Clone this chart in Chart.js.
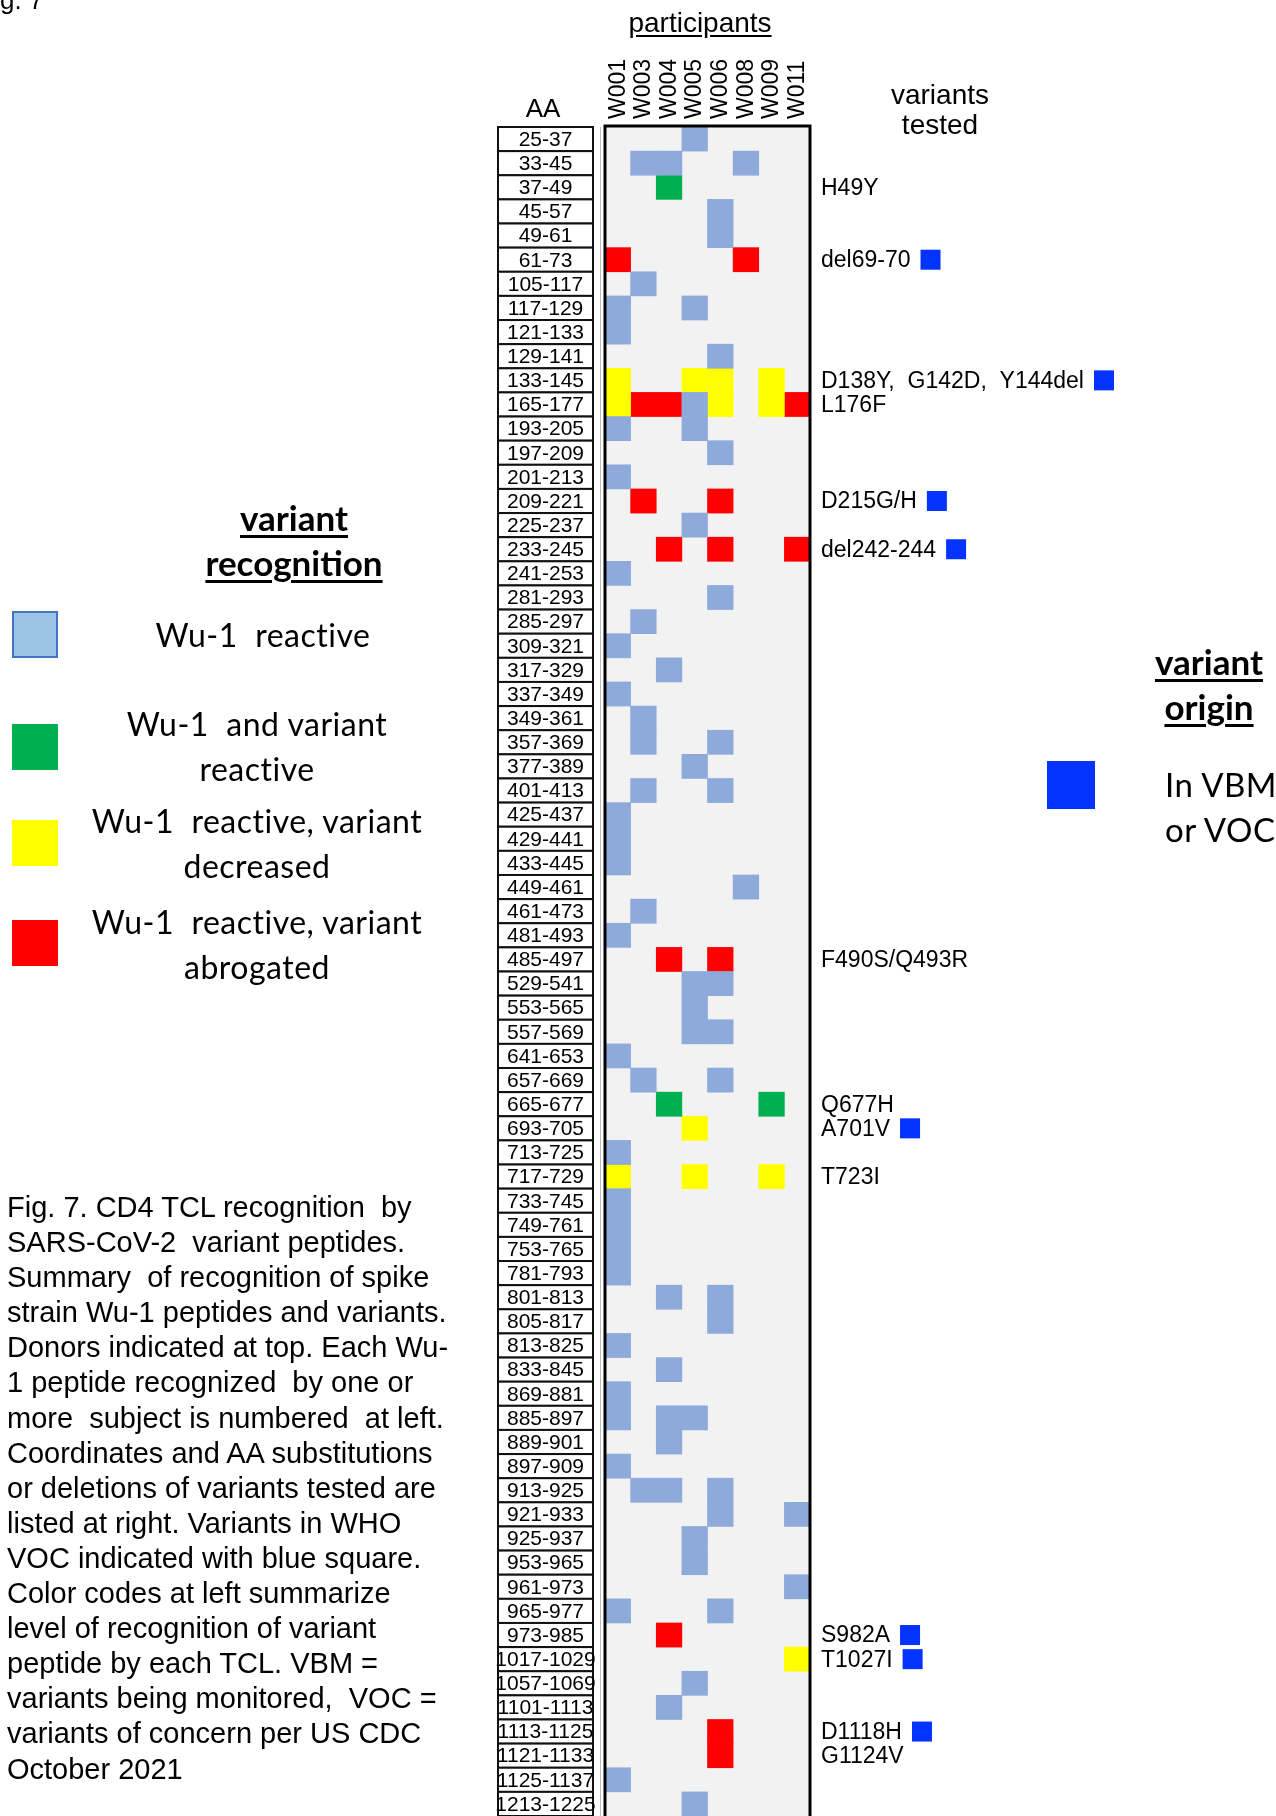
<!DOCTYPE html>
<html>
<head>
<meta charset="utf-8">
<script src="https://cdn.jsdelivr.net/npm/chart.js@4.4.0/dist/chart.umd.min.js"></script>
<style>
    html, body { margin: 0; padding: 0; overflow: hidden; background: #fff; }
    #page { position: relative; width: 1276px; height: 1816px; font-family: 'Liberation Sans', Arial, sans-serif; color: #000; }
    #chart { position: absolute; left: 0; top: 0; }
    .txt { position: absolute; white-space: pre; }
    .head { font-size: 28px; line-height: 30px; text-align: center; }
    .legend { font-family: Lato, 'Open Sans', sans-serif; text-align: center; }
    .legend-title { font-weight: bold; font-size: 35px; line-height: 45px; }
    .legend-title span { text-decoration: underline; text-decoration-thickness: 3px; text-underline-offset: 4px; }
    .legend-item { font-size: 32px; line-height: 45px; letter-spacing: 0.5px; }
    .swatch { position: absolute; box-sizing: border-box; }
    .caption { left: 7px; top: 1190px; font-size: 29px; line-height: 35.1px; }
</style>
</head>
<body>
<div id="page">
    <canvas id="chart" width="1276" height="1816"></canvas>

    <div class="txt" style="left:0; top:-15px; font-size:26px;">g. 7</div>

    <div class="txt head" style="left:600px; top:8px; width:200px;"><span style="text-decoration:underline; text-underline-offset:3px;">participants</span></div>
    <div class="txt head" style="left:493px; top:93px; width:100px; font-size:26px;">AA</div>
    <div class="txt head" style="left:840px; top:80px; width:200px;">variants<br>tested</div>

    <!-- variant recognition legend -->
    <div class="txt legend legend-title" style="left:144px; top:495px; width:300px;"><span>variant</span><br><span>recognition</span></div>
    <div class="swatch" style="left:12px; top:611px; width:46px; height:47px; background:#9dc3e6; border:2.5px solid #4472c4;"></div>
    <div class="txt legend legend-item" style="left:63px; top:612px; width:400px;">Wu-1  reactive</div>
    <div class="swatch" style="left:12px; top:724px; width:46px; height:46px; background:#00b050;"></div>
    <div class="txt legend legend-item" style="left:57px; top:701px; width:400px;">Wu-1  and variant<br>reactive</div>
    <div class="swatch" style="left:12px; top:820px; width:46px; height:46px; background:#ffff00;"></div>
    <div class="txt legend legend-item" style="left:57px; top:798px; width:400px;">Wu-1  reactive, variant<br>decreased</div>
    <div class="swatch" style="left:12px; top:920px; width:46px; height:46px; background:#ff0000;"></div>
    <div class="txt legend legend-item" style="left:57px; top:899px; width:400px;">Wu-1  reactive, variant<br>abrogated</div>

    <!-- variant origin legend -->
    <div class="txt legend legend-title" style="left:1109px; top:639px; width:200px;"><span>variant</span><br><span>origin</span></div>
    <div class="swatch" style="left:1047px; top:761px; width:48px; height:48px; background:#0433ff;"></div>
    <div class="txt legend legend-item" style="left:1165px; top:762px; text-align:left; font-size:33px;">In VBM<br>or VOC</div>

    <div class="txt caption">Fig. 7. CD4 TCL recognition  by
SARS-CoV-2  variant peptides.
Summary  of recognition of spike
strain Wu-1 peptides and variants.
Donors indicated at top. Each Wu-
1 peptide recognized  by one or
more  subject is numbered  at left.
Coordinates and AA substitutions
or deletions of variants tested are
listed at right. Variants in WHO
VOC indicated with blue square.
Color codes at left summarize
level of recognition of variant
peptide by each TCL. VBM =
variants being monitored,  VOC =
variants of concern per US CDC
October 2021</div>
</div>

<script>
// Donors (columns) and Wu-1 peptides (rows)
const participants = ['W001', 'W003', 'W004', 'W005', 'W006', 'W008', 'W009', 'W011'];

const peptides = [
    '25-37', '33-45', '37-49', '45-57', '49-61', '61-73', '105-117', '117-129', '121-133', '129-141',
    '133-145', '165-177', '193-205', '197-209', '201-213', '209-221', '225-237', '233-245', '241-253', '281-293',
    '285-297', '309-321', '317-329', '337-349', '349-361', '357-369', '377-389', '401-413', '425-437', '429-441',
    '433-445', '449-461', '461-473', '481-493', '485-497', '529-541', '553-565', '557-569', '641-653', '657-669',
    '665-677', '693-705', '713-725', '717-729', '733-745', '749-761', '753-765', '781-793', '801-813', '805-817',
    '813-825', '833-845', '869-881', '885-897', '889-901', '897-909', '913-925', '921-933', '925-937', '953-965',
    '961-973', '965-977', '973-985', '1017-1029', '1057-1069', '1101-1113', '1113-1125', '1121-1133', '1125-1137', '1213-1225'
];

// Cells: [peptide, participant]
const wu1Reactive = [
    ['25-37', 'W005'], ['33-45', 'W003'], ['33-45', 'W004'], ['33-45', 'W008'],
    ['45-57', 'W006'], ['49-61', 'W006'], ['105-117', 'W003'], ['117-129', 'W001'], ['117-129', 'W005'],
    ['121-133', 'W001'], ['129-141', 'W006'], ['165-177', 'W005'], ['193-205', 'W001'], ['193-205', 'W005'],
    ['197-209', 'W006'], ['201-213', 'W001'], ['225-237', 'W005'], ['241-253', 'W001'], ['281-293', 'W006'],
    ['285-297', 'W003'], ['309-321', 'W001'], ['317-329', 'W004'], ['337-349', 'W001'], ['349-361', 'W003'],
    ['357-369', 'W003'], ['357-369', 'W006'], ['377-389', 'W005'], ['401-413', 'W003'], ['401-413', 'W006'],
    ['425-437', 'W001'], ['429-441', 'W001'], ['433-445', 'W001'], ['449-461', 'W008'], ['461-473', 'W003'],
    ['481-493', 'W001'], ['529-541', 'W005'], ['529-541', 'W006'], ['553-565', 'W005'], ['557-569', 'W005'],
    ['557-569', 'W006'], ['641-653', 'W001'], ['657-669', 'W003'], ['657-669', 'W006'], ['713-725', 'W001'],
    ['733-745', 'W001'], ['749-761', 'W001'], ['753-765', 'W001'], ['781-793', 'W001'], ['801-813', 'W004'],
    ['801-813', 'W006'], ['805-817', 'W006'], ['813-825', 'W001'], ['833-845', 'W004'], ['869-881', 'W001'],
    ['885-897', 'W001'], ['885-897', 'W004'], ['885-897', 'W005'], ['889-901', 'W004'], ['897-909', 'W001'],
    ['913-925', 'W003'], ['913-925', 'W004'], ['913-925', 'W006'], ['921-933', 'W006'], ['921-933', 'W011'],
    ['925-937', 'W005'], ['953-965', 'W005'], ['961-973', 'W011'], ['965-977', 'W001'], ['965-977', 'W006'],
    ['1057-1069', 'W005'], ['1101-1113', 'W004'], ['1125-1137', 'W001'], ['1213-1225', 'W005']
];

const bothReactive = [
    ['37-49', 'W004'], ['665-677', 'W004'], ['665-677', 'W009']
];

const variantDecreased = [
    ['133-145', 'W001'], ['133-145', 'W005'], ['133-145', 'W006'], ['133-145', 'W009'],
    ['165-177', 'W001'], ['165-177', 'W006'], ['165-177', 'W009'],
    ['693-705', 'W005'], ['717-729', 'W001'], ['717-729', 'W005'], ['717-729', 'W009'],
    ['1017-1029', 'W011']
];

const variantAbrogated = [
    ['61-73', 'W001'], ['61-73', 'W008'], ['165-177', 'W003'], ['165-177', 'W004'], ['165-177', 'W011'],
    ['209-221', 'W003'], ['209-221', 'W006'], ['233-245', 'W004'], ['233-245', 'W006'], ['233-245', 'W011'],
    ['485-497', 'W004'], ['485-497', 'W006'], ['973-985', 'W004'], ['1113-1125', 'W006'], ['1121-1133', 'W006']
];

// Variants tested, listed at right of their peptide row
const variantRows = ['37-49', '61-73', '133-145', '165-177', '209-221', '233-245', '485-497',
    '665-677', '693-705', '717-729', '973-985', '1017-1029', '1113-1125', '1121-1133'];
const variantLabels = ['H49Y', 'del69-70', 'D138Y,  G142D,  Y144del', 'L176F', 'D215G/H', 'del242-244', 'F490S/Q493R',
    'Q677H', 'A701V', 'T723I', 'S982A', 'T1027I', 'D1118H', 'G1124V'];
const variantInVoc = [false, true, true, false, true, true, false,
    false, true, false, true, true, true, false];

const FONT = "'Liberation Sans', Arial, sans-serif";

const toCells = cells => cells.map(([pep, who]) => {
    const i = peptides.indexOf(pep);
    return { x: who, y: [i, i + 1] };
});

const cellDataset = (label, cells, color) => ({
    label: label,
    data: toCells(cells),
    backgroundColor: color,
    borderWidth: 0,
    barPercentage: 1,
    categoryPercentage: 1,
    grouped: false
});

// Boxed AA labels, grey panel and frame
const gridDecor = {
    id: 'gridDecor',
    beforeDraw(chart) {
        const { ctx, chartArea, scales: { y } } = chart;
        ctx.save();
        ctx.strokeStyle = '#111';
        ctx.lineWidth = 2;
        ctx.font = '21px ' + FONT;
        ctx.textAlign = 'center';
        ctx.textBaseline = 'middle';
        peptides.forEach((p, i) => {
            const top = y.getPixelForValue(i);
            const bottom = y.getPixelForValue(i + 1);
            ctx.fillStyle = '#fff';
            ctx.fillRect(498, top, 95, bottom - top);
            ctx.strokeRect(498, top, 95, bottom - top);
            ctx.fillStyle = '#000';
            ctx.fillText(p, 545.5, (top + bottom) / 2 + 1);
        });
        ctx.fillStyle = '#f2f2f2';
        ctx.fillRect(chartArea.left, chartArea.top, chartArea.width, chartArea.height);
        ctx.restore();
    },
    afterDatasetsDraw(chart) {
        const { ctx, chartArea } = chart;
        ctx.save();
        ctx.strokeStyle = '#bbb';
        ctx.lineWidth = 1;
        ctx.beginPath();
        ctx.moveTo(600.5, chartArea.top);
        ctx.lineTo(600.5, chartArea.bottom);
        ctx.stroke();
        ctx.strokeStyle = '#000';
        ctx.lineWidth = 3;
        ctx.strokeRect(chartArea.left, chartArea.top - 1, chartArea.width, chartArea.height + 4);
        ctx.restore();
    }
};

// Variant names and VOC squares on the right
const variantNotes = {
    id: 'variantNotes',
    afterDraw(chart) {
        const { ctx, scales: { y } } = chart;
        ctx.save();
        ctx.font = '23px ' + FONT;
        ctx.textBaseline = 'middle';
        ctx.textAlign = 'left';
        variantRows.forEach((pep, k) => {
            const yc = y.getPixelForValue(peptides.indexOf(pep) + 0.5);
            const x = 821;
            ctx.fillStyle = '#000';
            ctx.fillText(variantLabels[k], x, yc + 1);
            if (variantInVoc[k]) {
                const w = ctx.measureText(variantLabels[k]).width;
                ctx.fillStyle = '#0433ff';
                ctx.fillRect(x + w + 10, yc - 10, 20, 20);
            }
        });
        ctx.restore();
    }
};

new Chart(document.getElementById('chart'), {
    type: 'bar',
    data: {
        labels: participants,
        datasets: [
            cellDataset('Wu-1 reactive', wu1Reactive, '#8eaadb'),
            cellDataset('Wu-1 and variant reactive', bothReactive, '#00b050'),
            cellDataset('Wu-1 reactive, variant decreased', variantDecreased, '#ffff00'),
            cellDataset('Wu-1 reactive, variant abrogated', variantAbrogated, '#ff0000')
        ]
    },
    options: {
        responsive: false,
        animation: false,
        events: [],
        devicePixelRatio: 1,
        layout: { padding: { left: 498, top: 55, right: 466, bottom: 0 } },
        plugins: {
            legend: { display: false },
            tooltip: { enabled: false }
        },
        scales: {
            x: {
                type: 'category',
                position: 'top',
                grid: { display: false },
                border: { display: false },
                ticks: {
                    color: '#000',
                    font: { family: FONT, size: 23 },
                    minRotation: 90,
                    maxRotation: 90,
                    autoSkip: false,
                    padding: 0,
                    labelOffset: 28
                },
                afterFit(scale) { scale.height = 72; }
            },
            y: {
                type: 'linear',
                min: 0,
                max: peptides.length,
                reverse: true,
                grid: { display: false },
                border: { display: false },
                ticks: { display: false },
                afterFit(scale) { scale.width = 107; }
            }
        }
    },
    plugins: [gridDecor, variantNotes]
});
</script>
</body>
</html>
